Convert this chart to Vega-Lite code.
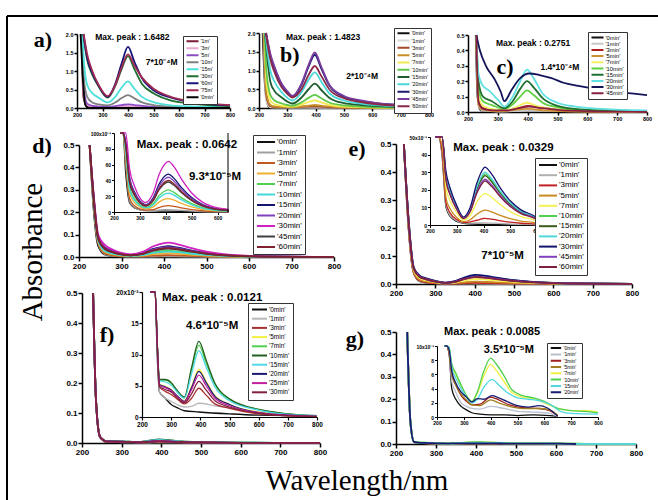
{
  "$schema": "https://vega.github.io/schema/vega-lite/v6.json",
  "width": 651,
  "height": 484,
  "autosize": "none",
  "padding": {"left": 7, "top": 16, "right": 0, "bottom": 0},
  "background": "white",
  "data": {
    "values": "p,s,w,A\na,1m,218,2\na,1m,225,0.3\na,1m,240,0.03\na,1m,260,0.01\na,1m,800,0\na,3m,219,2\na,3m,226,0.4\na,3m,240,0.08\na,3m,260,0.04\na,3m,320,0.02\na,3m,400,0.05\na,3m,455,0.03\na,3m,560,0.005\na,3m,800,0\na,5m,219,2\na,5m,227,0.5\na,5m,240,0.12\na,5m,260,0.06\na,5m,320,0.03\na,5m,375,0.08\na,5m,400,0.1\na,5m,425,0.08\na,5m,500,0.03\na,5m,650,0.005\na,5m,800,0\na,10m,220,2\na,10m,227,0.8\na,10m,240,0.3\na,10m,260,0.15\na,10m,285,0.1\na,10m,320,0.07\na,10m,350,0.15\na,10m,375,0.27\na,10m,400,0.35\na,10m,425,0.26\na,10m,455,0.15\na,10m,500,0.08\na,10m,560,0.04\na,10m,650,0.02\na,10m,800,0.01\na,15m,221,2\na,15m,228,1.2\na,15m,240,0.62\na,15m,260,0.4\na,15m,285,0.28\na,15m,320,0.15\na,15m,350,0.3\na,15m,375,0.55\na,15m,400,0.72\na,15m,425,0.52\na,15m,455,0.3\na,15m,500,0.16\na,15m,560,0.08\na,15m,650,0.04\na,15m,800,0.02\na,30m,225,2\na,30m,240,1.3\na,30m,260,0.9\na,30m,285,0.58\na,30m,320,0.28\na,30m,350,0.6\na,30m,375,1.05\na,30m,400,1.4\na,30m,425,1.05\na,30m,455,0.65\na,30m,500,0.4\na,30m,560,0.22\na,30m,650,0.12\na,30m,800,0.05\na,60m,225,2\na,60m,240,1.35\na,60m,260,0.95\na,60m,285,0.6\na,60m,320,0.3\na,60m,350,0.65\na,60m,375,1.2\na,60m,400,1.65\na,60m,425,1.25\na,60m,455,0.8\na,60m,500,0.48\na,60m,560,0.3\na,60m,650,0.16\na,60m,800,0.07\na,75m,226,2\na,75m,240,1.45\na,75m,260,1\na,75m,285,0.62\na,75m,320,0.32\na,75m,350,0.62\na,75m,375,1.1\na,75m,400,1.45\na,75m,425,1.15\na,75m,455,0.82\na,75m,500,0.52\na,75m,560,0.32\na,75m,650,0.17\na,75m,800,0.08\na,0min,214,2\na,0min,222,0.9\na,0min,232,0.1\na,0min,245,0\na,0min,800,0\nb,0min,213,2\nb,0min,222,0.5\nb,0min,235,0.02\nb,0min,800,0\nb,1min,216,2\nb,1min,225,0.2\nb,1min,240,0.02\nb,1min,260,0.01\nb,1min,800,0\nb,3min,217,2\nb,3min,226,0.3\nb,3min,240,0.05\nb,3min,260,0.02\nb,3min,397,0.04\nb,3min,450,0.02\nb,3min,560,0\nb,3min,800,0\nb,5min,218,2\nb,5min,226,0.4\nb,5min,240,0.08\nb,5min,255,0.04\nb,5min,318,0.02\nb,5min,375,0.06\nb,5min,397,0.08\nb,5min,430,0.05\nb,5min,500,0.02\nb,5min,650,0\nb,5min,800,0\nb,7min,219,2\nb,7min,226,0.7\nb,7min,240,0.2\nb,7min,255,0.1\nb,7min,280,0.06\nb,7min,318,0.04\nb,7min,350,0.09\nb,7min,375,0.16\nb,7min,397,0.2\nb,7min,420,0.15\nb,7min,450,0.08\nb,7min,500,0.04\nb,7min,650,0.01\nb,7min,800,0\nb,10min,220,2\nb,10min,226,1\nb,10min,240,0.35\nb,10min,255,0.2\nb,10min,280,0.12\nb,10min,300,0.08\nb,10min,318,0.06\nb,10min,350,0.15\nb,10min,375,0.27\nb,10min,397,0.35\nb,10min,420,0.26\nb,10min,450,0.14\nb,10min,500,0.07\nb,10min,560,0.04\nb,10min,650,0.02\nb,10min,800,0.01\nb,15min,221,2\nb,15min,227,1.5\nb,15min,240,0.7\nb,15min,255,0.45\nb,15min,280,0.28\nb,15min,300,0.17\nb,15min,318,0.12\nb,15min,350,0.28\nb,15min,375,0.5\nb,15min,397,0.65\nb,15min,420,0.48\nb,15min,450,0.26\nb,15min,500,0.13\nb,15min,560,0.08\nb,15min,650,0.04\nb,15min,800,0.02\nb,20min,222,2\nb,20min,228,1.6\nb,20min,240,1\nb,20min,255,0.7\nb,20min,280,0.42\nb,20min,300,0.27\nb,20min,318,0.2\nb,20min,350,0.42\nb,20min,375,0.75\nb,20min,397,0.95\nb,20min,420,0.7\nb,20min,450,0.38\nb,20min,500,0.2\nb,20min,560,0.12\nb,20min,650,0.06\nb,20min,800,0.03\nb,30min,225,2\nb,30min,240,1.4\nb,30min,255,1.05\nb,30min,280,0.62\nb,30min,300,0.43\nb,30min,318,0.3\nb,30min,350,0.62\nb,30min,375,1.1\nb,30min,397,1.42\nb,30min,420,1.05\nb,30min,450,0.58\nb,30min,500,0.3\nb,30min,560,0.19\nb,30min,650,0.1\nb,30min,800,0.05\nb,45min,225,2\nb,45min,240,1.45\nb,45min,255,1.1\nb,45min,280,0.65\nb,45min,300,0.45\nb,45min,318,0.32\nb,45min,350,0.65\nb,45min,375,1.15\nb,45min,397,1.48\nb,45min,420,1.1\nb,45min,450,0.6\nb,45min,500,0.32\nb,45min,560,0.2\nb,45min,650,0.1\nb,45min,800,0.05\nb,60min,224,2\nb,60min,240,1.3\nb,60min,255,0.95\nb,60min,280,0.55\nb,60min,300,0.38\nb,60min,318,0.28\nb,60min,350,0.5\nb,60min,375,0.88\nb,60min,397,1.12\nb,60min,420,0.85\nb,60min,450,0.48\nb,60min,500,0.26\nb,60min,560,0.16\nb,60min,650,0.08\nb,60min,800,0.04\nc,0min,226,0.5\nc,0min,232,0.1\nc,0min,242,0.01\nc,0min,800,0\nc,1min,227,0.5\nc,1min,235,0.04\nc,1min,250,0.01\nc,1min,300,0.003\nc,1min,400,0.008\nc,1min,800,0\nc,3min,228,0.5\nc,3min,235,0.08\nc,3min,250,0.025\nc,3min,280,0.012\nc,3min,322,0.008\nc,3min,360,0.02\nc,3min,400,0.04\nc,3min,440,0.03\nc,3min,500,0.015\nc,3min,600,0.005\nc,3min,800,0\nc,5min,228,0.5\nc,5min,235,0.05\nc,5min,250,0.015\nc,5min,300,0.005\nc,5min,400,0.02\nc,5min,460,0.01\nc,5min,560,0.003\nc,5min,800,0\nc,7min,228,0.5\nc,7min,235,0.1\nc,7min,250,0.04\nc,7min,280,0.02\nc,7min,322,0.01\nc,7min,360,0.03\nc,7min,398,0.06\nc,7min,430,0.04\nc,7min,480,0.02\nc,7min,560,0.01\nc,7min,800,0\nc,10min,228,0.5\nc,10min,235,0.15\nc,10min,250,0.07\nc,10min,280,0.045\nc,10min,322,0.02\nc,10min,350,0.05\nc,10min,375,0.1\nc,10min,398,0.14\nc,10min,420,0.11\nc,10min,450,0.06\nc,10min,500,0.03\nc,10min,560,0.015\nc,10min,650,0.01\nc,10min,800,0.005\nc,15min,228,0.5\nc,15min,235,0.2\nc,15min,250,0.1\nc,15min,280,0.07\nc,15min,322,0.025\nc,15min,350,0.07\nc,15min,375,0.15\nc,15min,398,0.2\nc,15min,420,0.16\nc,15min,450,0.09\nc,15min,500,0.04\nc,15min,560,0.02\nc,15min,650,0.01\nc,15min,800,0.005\nc,20min,228,0.5\nc,20min,235,0.25\nc,20min,250,0.17\nc,20min,270,0.14\nc,20min,300,0.08\nc,20min,322,0.035\nc,20min,350,0.1\nc,20min,375,0.2\nc,20min,398,0.275\nc,20min,420,0.22\nc,20min,450,0.12\nc,20min,500,0.06\nc,20min,560,0.035\nc,20min,650,0.02\nc,20min,800,0.01\nc,30min,228,0.5\nc,30min,240,0.4\nc,30min,260,0.3\nc,30min,290,0.21\nc,30min,310,0.13\nc,30min,322,0.07\nc,30min,345,0.14\nc,30min,375,0.22\nc,30min,405,0.25\nc,30min,440,0.24\nc,30min,480,0.22\nc,30min,520,0.19\nc,30min,570,0.17\nc,30min,660,0.14\nc,30min,800,0.11\nc,45min,228,0.5\nc,45min,235,0.07\nc,45min,250,0.02\nc,45min,290,0.01\nc,45min,330,0.01\nc,45min,370,0.025\nc,45min,405,0.035\nc,45min,450,0.025\nc,45min,520,0.01\nc,45min,650,0.003\nc,45min,800,0\nd,0min,225,0.5\nd,0min,235,0.2\nd,0min,245,0.05\nd,0min,260,0.012\nd,0min,280,0.005\nd,0min,322,0.002\nd,0min,400,0.001\nd,0min,500,0.0003\nd,0min,800,0\nd,1min,225,0.5\nd,1min,235,0.22\nd,1min,245,0.062\nd,1min,260,0.014\nd,1min,280,0.0054\nd,1min,300,0.0028\nd,1min,322,0.0016\nd,1min,350,0.0017\nd,1min,375,0.0023\nd,1min,400,0.0029\nd,1min,410,0.003\nd,1min,430,0.0027\nd,1min,460,0.002\nd,1min,500,0.0011\nd,1min,540,0.0006\nd,1min,600,0.0002\nd,1min,640,0.0002\nd,1min,800,0\nd,3min,225,0.5\nd,3min,235,0.226\nd,3min,245,0.065\nd,3min,260,0.0174\nd,3min,280,0.0075\nd,3min,300,0.004\nd,3min,322,0.0024\nd,3min,350,0.0029\nd,3min,375,0.006\nd,3min,400,0.0078\nd,3min,410,0.008\nd,3min,430,0.0072\nd,3min,460,0.0052\nd,3min,500,0.003\nd,3min,540,0.0016\nd,3min,600,0.0006\nd,3min,640,0.0004\nd,3min,800,0.0001\nd,5min,225,0.5\nd,5min,235,0.235\nd,5min,245,0.071\nd,5min,260,0.0236\nd,5min,280,0.0116\nd,5min,300,0.0063\nd,5min,322,0.004\nd,5min,350,0.0061\nd,5min,375,0.0128\nd,5min,400,0.0165\nd,5min,410,0.017\nd,5min,430,0.0153\nd,5min,460,0.011\nd,5min,500,0.0065\nd,5min,540,0.0034\nd,5min,600,0.0014\nd,5min,640,0.0009\nd,5min,800,0.0002\nd,7min,225,0.5\nd,7min,235,0.24\nd,7min,245,0.078\nd,7min,260,0.031\nd,7min,280,0.0163\nd,7min,300,0.009\nd,7min,322,0.0058\nd,7min,350,0.0101\nd,7min,375,0.021\nd,7min,400,0.0272\nd,7min,410,0.028\nd,7min,430,0.0252\nd,7min,460,0.0182\nd,7min,500,0.0106\nd,7min,540,0.0056\nd,7min,600,0.0022\nd,7min,640,0.0014\nd,7min,800,0.0003\nd,10min,225,0.5\nd,10min,235,0.24\nd,10min,245,0.075\nd,10min,260,0.028\nd,10min,280,0.0145\nd,10min,300,0.008\nd,10min,322,0.0051\nd,10min,350,0.0086\nd,10min,375,0.018\nd,10min,400,0.0233\nd,10min,410,0.024\nd,10min,430,0.0216\nd,10min,460,0.0156\nd,10min,500,0.0091\nd,10min,540,0.0048\nd,10min,600,0.0019\nd,10min,640,0.0012\nd,10min,800,0.0002\nd,15min,225,0.5\nd,15min,235,0.26\nd,15min,245,0.09\nd,15min,260,0.044\nd,15min,280,0.025\nd,15min,300,0.014\nd,15min,322,0.0093\nd,15min,350,0.0173\nd,15min,375,0.036\nd,15min,400,0.0466\nd,15min,410,0.048\nd,15min,430,0.0432\nd,15min,460,0.0312\nd,15min,500,0.0182\nd,15min,540,0.0096\nd,15min,600,0.0038\nd,15min,640,0.0024\nd,15min,800,0.0005\nd,20min,225,0.5\nd,20min,235,0.255\nd,20min,245,0.088\nd,20min,260,0.042\nd,20min,280,0.0233\nd,20min,300,0.013\nd,20min,322,0.0086\nd,20min,350,0.0158\nd,20min,375,0.033\nd,20min,400,0.0427\nd,20min,410,0.044\nd,20min,430,0.0396\nd,20min,460,0.0286\nd,20min,500,0.0167\nd,20min,540,0.0088\nd,20min,600,0.0035\nd,20min,640,0.0022\nd,20min,800,0.0004\nd,30min,225,0.5\nd,30min,235,0.27\nd,30min,245,0.1\nd,30min,260,0.055\nd,30min,280,0.032\nd,30min,300,0.018\nd,30min,322,0.012\nd,30min,350,0.023\nd,30min,375,0.048\nd,30min,400,0.062\nd,30min,410,0.064\nd,30min,430,0.058\nd,30min,460,0.042\nd,30min,500,0.024\nd,30min,540,0.0128\nd,30min,600,0.0051\nd,30min,640,0.0032\nd,30min,800,0.0006\nd,45min,225,0.5\nd,45min,235,0.25\nd,45min,245,0.084\nd,45min,260,0.037\nd,45min,280,0.0205\nd,45min,300,0.0114\nd,45min,322,0.0075\nd,45min,350,0.0137\nd,45min,375,0.0285\nd,45min,400,0.0369\nd,45min,410,0.038\nd,45min,430,0.0342\nd,45min,460,0.0247\nd,45min,500,0.0144\nd,45min,540,0.0076\nd,45min,600,0.003\nd,45min,640,0.0019\nd,45min,800,0.0004\nd,60min,225,0.5\nd,60min,235,0.25\nd,60min,245,0.085\nd,60min,260,0.039\nd,60min,280,0.0216\nd,60min,300,0.012\nd,60min,322,0.0079\nd,60min,350,0.0144\nd,60min,375,0.03\nd,60min,400,0.0388\nd,60min,410,0.04\nd,60min,430,0.036\nd,60min,460,0.026\nd,60min,500,0.0152\nd,60min,540,0.008\nd,60min,600,0.0032\nd,60min,640,0.002\nd,60min,800,0.0004\ne,0min,220,0.5\ne,0min,232,0.2\ne,0min,245,0.04\ne,0min,260,0.01\ne,0min,275,0.005\ne,0min,300,0.002\ne,0min,325,0.001\ne,0min,400,0.0003\ne,0min,800,0\ne,1min,220,0.5\ne,1min,232,0.2\ne,1min,245,0.04\ne,1min,260,0.011\ne,1min,275,0.0055\ne,1min,300,0.0025\ne,1min,325,0.0012\ne,1min,350,0.0011\ne,1min,400,0.0012\ne,1min,460,0.0009\ne,1min,540,0.0004\ne,1min,640,0.0002\ne,1min,800,0\ne,3min,220,0.5\ne,3min,232,0.204\ne,3min,245,0.042\ne,3min,260,0.0124\ne,3min,275,0.0069\ne,3min,300,0.0031\ne,3min,325,0.0015\ne,3min,350,0.0018\ne,3min,375,0.0027\ne,3min,400,0.0037\ne,3min,405,0.0038\ne,3min,430,0.0033\ne,3min,460,0.0025\ne,3min,500,0.0016\ne,3min,540,0.001\ne,3min,600,0.0005\ne,3min,640,0.0003\ne,3min,800,0.0001\ne,5min,220,0.5\ne,5min,232,0.208\ne,5min,245,0.045\ne,5min,260,0.0152\ne,5min,275,0.0092\ne,5min,300,0.0043\ne,5min,325,0.0019\ne,5min,350,0.003\ne,5min,375,0.0061\ne,5min,400,0.0083\ne,5min,405,0.0085\ne,5min,430,0.0075\ne,5min,460,0.0056\ne,5min,500,0.0036\ne,5min,540,0.0022\ne,5min,600,0.001\ne,5min,640,0.0006\ne,5min,800,0.0002\ne,7min,220,0.5\ne,7min,232,0.216\ne,7min,245,0.051\ne,7min,260,0.021\ne,7min,275,0.0138\ne,7min,300,0.007\ne,7min,325,0.0029\ne,7min,350,0.0054\ne,7min,375,0.013\ne,7min,400,0.0176\ne,7min,405,0.018\ne,7min,430,0.0158\ne,7min,460,0.0119\ne,7min,500,0.0076\ne,7min,540,0.0047\ne,7min,600,0.0022\ne,7min,640,0.0013\ne,7min,800,0.0004\ne,10min,220,0.5\ne,10min,232,0.226\ne,10min,245,0.0576\ne,10min,260,0.0276\ne,10min,275,0.019\ne,10min,300,0.0099\ne,10min,325,0.0041\ne,10min,350,0.0087\ne,10min,375,0.0209\ne,10min,400,0.0284\ne,10min,405,0.029\ne,10min,430,0.0255\ne,10min,460,0.0191\ne,10min,500,0.0122\ne,10min,540,0.0075\ne,10min,600,0.0035\ne,10min,640,0.002\ne,10min,800,0.0006\ne,15min,220,0.5\ne,15min,232,0.226\ne,15min,245,0.057\ne,15min,260,0.027\ne,15min,275,0.0186\ne,15min,300,0.0097\ne,15min,325,0.004\ne,15min,350,0.0084\ne,15min,375,0.0202\ne,15min,400,0.0274\ne,15min,405,0.028\ne,15min,430,0.0246\ne,15min,460,0.0185\ne,15min,500,0.0118\ne,15min,540,0.0073\ne,15min,600,0.0034\ne,15min,640,0.002\ne,15min,800,0.0006\ne,20min,220,0.5\ne,20min,232,0.227\ne,20min,245,0.058\ne,20min,260,0.028\ne,20min,275,0.0196\ne,20min,300,0.0102\ne,20min,325,0.0042\ne,20min,350,0.009\ne,20min,375,0.0216\ne,20min,400,0.0294\ne,20min,405,0.03\ne,20min,430,0.0264\ne,20min,460,0.0198\ne,20min,500,0.0126\ne,20min,540,0.0078\ne,20min,600,0.0036\ne,20min,640,0.0021\ne,20min,800,0.0006\ne,30min,220,0.5\ne,30min,232,0.23\ne,30min,245,0.06\ne,30min,260,0.03\ne,30min,275,0.021\ne,30min,300,0.011\ne,30min,325,0.0045\ne,30min,350,0.0099\ne,30min,375,0.0237\ne,30min,400,0.0322\ne,30min,405,0.0329\ne,30min,430,0.029\ne,30min,460,0.0217\ne,30min,500,0.0138\ne,30min,540,0.0086\ne,30min,600,0.0039\ne,30min,640,0.0023\ne,30min,800,0.0007\ne,45min,220,0.5\ne,45min,232,0.224\ne,45min,245,0.056\ne,45min,260,0.026\ne,45min,275,0.0176\ne,45min,300,0.0091\ne,45min,325,0.0038\ne,45min,350,0.0078\ne,45min,375,0.0187\ne,45min,400,0.0255\ne,45min,405,0.026\ne,45min,430,0.0229\ne,45min,460,0.0172\ne,45min,500,0.0109\ne,45min,540,0.0068\ne,45min,600,0.0031\ne,45min,640,0.0018\ne,45min,800,0.0005\ne,60min,220,0.5\ne,60min,232,0.223\ne,60min,245,0.055\ne,60min,260,0.025\ne,60min,275,0.0172\ne,60min,300,0.0088\ne,60min,325,0.0037\ne,60min,350,0.0075\ne,60min,375,0.018\ne,60min,400,0.0245\ne,60min,405,0.025\ne,60min,430,0.022\ne,60min,460,0.0165\ne,60min,500,0.0105\ne,60min,540,0.0065\ne,60min,600,0.003\ne,60min,640,0.0018\ne,60min,800,0.0005\nf,0min,228,0.5\nf,0min,235,0.15\nf,0min,245,0.02\nf,0min,252,0.01\nf,0min,260,0.004\nf,0min,280,0.003\nf,0min,300,0.002\nf,0min,320,0.0015\nf,0min,345,0.001\nf,0min,395,0.0008\nf,0min,500,0.0005\nf,0min,600,0.0003\nf,0min,800,0.0002\nf,1min,228,0.5\nf,1min,235,0.15\nf,1min,245,0.022\nf,1min,252,0.012\nf,1min,260,0.004\nf,1min,280,0.003\nf,1min,300,0.0025\nf,1min,320,0.002\nf,1min,345,0.0016\nf,1min,370,0.0017\nf,1min,395,0.0022\nf,1min,450,0.0018\nf,1min,500,0.0015\nf,1min,600,0.0008\nf,1min,700,0.0004\nf,1min,800,0.0002\nf,3min,228,0.5\nf,3min,235,0.15\nf,3min,245,0.022\nf,3min,252,0.012\nf,3min,260,0.0048\nf,3min,280,0.0041\nf,3min,300,0.0036\nf,3min,320,0.0029\nf,3min,345,0.0021\nf,3min,370,0.003\nf,3min,395,0.0046\nf,3min,420,0.0035\nf,3min,450,0.0021\nf,3min,500,0.0014\nf,3min,600,0.0005\nf,3min,700,0.0002\nf,3min,800,0.0001\nf,5min,228,0.5\nf,5min,235,0.15\nf,5min,245,0.022\nf,5min,252,0.012\nf,5min,260,0.0053\nf,5min,280,0.0049\nf,5min,300,0.0044\nf,5min,320,0.0034\nf,5min,345,0.0026\nf,5min,370,0.0049\nf,5min,395,0.0076\nf,5min,420,0.0057\nf,5min,450,0.0034\nf,5min,500,0.002\nf,5min,600,0.0008\nf,5min,700,0.0003\nf,5min,800,0.0002\nf,7min,228,0.5\nf,7min,235,0.15\nf,7min,245,0.022\nf,7min,252,0.012\nf,7min,260,0.0059\nf,7min,280,0.0059\nf,7min,300,0.0054\nf,7min,320,0.0042\nf,7min,345,0.0031\nf,7min,370,0.0075\nf,7min,395,0.0115\nf,7min,420,0.0086\nf,7min,450,0.0052\nf,7min,500,0.0028\nf,7min,600,0.0012\nf,7min,700,0.0005\nf,7min,800,0.0002\nf,10min,228,0.5\nf,10min,235,0.15\nf,10min,245,0.022\nf,10min,252,0.012\nf,10min,260,0.006\nf,10min,280,0.006\nf,10min,300,0.0055\nf,10min,320,0.0043\nf,10min,345,0.0032\nf,10min,370,0.0079\nf,10min,395,0.0121\nf,10min,420,0.0091\nf,10min,450,0.0054\nf,10min,500,0.0029\nf,10min,600,0.0012\nf,10min,700,0.0005\nf,10min,800,0.0002\nf,15min,228,0.5\nf,15min,235,0.15\nf,15min,245,0.022\nf,15min,252,0.012\nf,15min,260,0.0058\nf,15min,280,0.0056\nf,15min,300,0.0051\nf,15min,320,0.004\nf,15min,345,0.003\nf,15min,370,0.0069\nf,15min,395,0.0106\nf,15min,420,0.008\nf,15min,450,0.0048\nf,15min,500,0.0026\nf,15min,600,0.0011\nf,15min,700,0.0004\nf,15min,800,0.0002\nf,20min,228,0.5\nf,20min,235,0.15\nf,20min,245,0.022\nf,20min,252,0.012\nf,20min,260,0.0052\nf,20min,280,0.0048\nf,20min,300,0.0043\nf,20min,320,0.0034\nf,20min,345,0.0025\nf,20min,370,0.0047\nf,20min,395,0.0073\nf,20min,420,0.0055\nf,20min,450,0.0033\nf,20min,500,0.002\nf,20min,600,0.0007\nf,20min,700,0.0003\nf,20min,800,0.0001\nf,25min,228,0.5\nf,25min,235,0.15\nf,25min,245,0.022\nf,25min,252,0.012\nf,25min,260,0.0051\nf,25min,280,0.0047\nf,25min,300,0.0042\nf,25min,320,0.0033\nf,25min,345,0.0024\nf,25min,370,0.0044\nf,25min,395,0.0067\nf,25min,420,0.005\nf,25min,450,0.003\nf,25min,500,0.0018\nf,25min,600,0.0007\nf,25min,700,0.0003\nf,25min,800,0.0001\nf,30min,228,0.5\nf,30min,235,0.15\nf,30min,245,0.022\nf,30min,252,0.012\nf,30min,260,0.0049\nf,30min,280,0.0044\nf,30min,300,0.004\nf,30min,320,0.0031\nf,30min,345,0.0023\nf,30min,370,0.0037\nf,30min,395,0.0057\nf,30min,420,0.0043\nf,30min,450,0.0026\nf,30min,500,0.0016\nf,30min,600,0.0006\nf,30min,700,0.0002\nf,30min,800,0.0001\ng,0min,228,0.5\ng,0min,236,0.1\ng,0min,245,0.009\ng,0min,255,0.004\ng,0min,270,0.0025\ng,0min,290,0.0015\ng,0min,310,0.001\ng,0min,330,0.0006\ng,0min,360,0.0004\ng,0min,400,0.0003\ng,0min,450,0.0003\ng,0min,500,0.0002\ng,0min,560,0.0003\ng,0min,620,0.0002\ng,0min,650,0.0001\ng,1min,228,0.5\ng,1min,236,0.1\ng,1min,245,0.009\ng,1min,255,0.005\ng,1min,270,0.0035\ng,1min,290,0.002\ng,1min,310,0.0015\ng,1min,330,0.0012\ng,1min,360,0.0011\ng,1min,400,0.0015\ng,1min,450,0.0012\ng,1min,500,0.0008\ng,1min,560,0.0007\ng,1min,620,0.0005\ng,1min,650,0.0001\ng,3min,228,0.5\ng,3min,236,0.1\ng,3min,245,0.009\ng,3min,255,0.006\ng,3min,270,0.0045\ng,3min,290,0.003\ng,3min,310,0.0022\ng,3min,330,0.0017\ng,3min,360,0.0018\ng,3min,400,0.0028\ng,3min,430,0.0024\ng,3min,470,0.0017\ng,3min,520,0.0013\ng,3min,580,0.0012\ng,3min,620,0.0009\ng,3min,650,0.0002\ng,5min,228,0.5\ng,5min,236,0.1\ng,5min,245,0.009\ng,5min,255,0.006\ng,5min,270,0.0045\ng,5min,290,0.0032\ng,5min,310,0.0024\ng,5min,330,0.0017\ng,5min,360,0.0016\ng,5min,400,0.0024\ng,5min,430,0.002\ng,5min,470,0.0015\ng,5min,520,0.0012\ng,5min,580,0.0012\ng,5min,620,0.001\ng,5min,650,0.0002\ng,7min,228,0.5\ng,7min,236,0.1\ng,7min,245,0.0096\ng,7min,255,0.0072\ng,7min,270,0.006\ng,7min,290,0.0043\ng,7min,310,0.003\ng,7min,330,0.0022\ng,7min,350,0.0033\ng,7min,375,0.0058\ng,7min,400,0.0074\ng,7min,420,0.0066\ng,7min,450,0.005\ng,7min,480,0.0034\ng,7min,520,0.0028\ng,7min,560,0.0026\ng,7min,600,0.002\ng,7min,650,0.0012\ng,7min,700,0.0009\ng,7min,750,0.0009\ng,7min,800,0.0007\ng,10min,228,0.5\ng,10min,236,0.1\ng,10min,245,0.0098\ng,10min,255,0.0075\ng,10min,270,0.0062\ng,10min,290,0.0045\ng,10min,310,0.003\ng,10min,330,0.0022\ng,10min,350,0.0035\ng,10min,375,0.0065\ng,10min,400,0.0083\ng,10min,420,0.0075\ng,10min,450,0.0058\ng,10min,480,0.0038\ng,10min,520,0.003\ng,10min,560,0.0027\ng,10min,600,0.0022\ng,10min,650,0.0012\ng,10min,700,0.0009\ng,10min,750,0.0008\ng,10min,800,0.0006\ng,15min,228,0.5\ng,15min,236,0.1\ng,15min,245,0.0098\ng,15min,255,0.007\ng,15min,270,0.0055\ng,15min,290,0.004\ng,15min,310,0.0028\ng,15min,330,0.002\ng,15min,350,0.0025\ng,15min,375,0.0042\ng,15min,405,0.0053\ng,15min,430,0.0045\ng,15min,460,0.0035\ng,15min,500,0.0027\ng,15min,540,0.0025\ng,15min,580,0.0023\ng,15min,620,0.0018\ng,15min,660,0.0008\ng,15min,700,0.0005\ng,15min,800,0.0004\ng,20min,228,0.5\ng,20min,236,0.1\ng,20min,245,0.0095\ng,20min,255,0.0065\ng,20min,270,0.0048\ng,20min,290,0.0035\ng,20min,310,0.0028\ng,20min,330,0.0021\ng,20min,350,0.0026\ng,20min,375,0.0025\ng,20min,405,0.003\ng,20min,430,0.0027\ng,20min,460,0.0022\ng,20min,500,0.0016\ng,20min,540,0.0014\ng,20min,580,0.0016\ng,20min,610,0.0013\ng,20min,650,0.0001",
    "format": {"type": "csv", "parse": {"w": "number", "A": "number"}}
  },
  "layer": [
    {"mark": {"type": "rule", "color": "black", "strokeWidth": 2},
     "encoding": {
       "x": {"datum": 0, "type": "quantitative", "scale": {"domain": [0, 1], "range": [0, 651], "nice": false, "zero": false}, "axis": null},
       "x2": {"datum": 1},
       "y": {"datum": 1, "type": "quantitative", "scale": {"domain": [0, 1], "range": [484, 0], "nice": false, "zero": false}, "axis": null}
     }},
    {"mark": {"type": "rule", "color": "black", "strokeWidth": 2},
     "encoding": {
       "x": {"datum": 0, "type": "quantitative", "scale": {"domain": [0, 1], "range": [0, 651], "nice": false, "zero": false}, "axis": null},
       "y": {"datum": 0, "type": "quantitative", "scale": {"domain": [0, 1], "range": [484, 0], "nice": false, "zero": false}, "axis": null},
       "y2": {"datum": 1}
     }},
    {"layer": [
      {"transform": [{"filter": "datum.p == 'a'"}],
       "mark": {"type": "line", "strokeWidth": 1.8, "interpolate": "monotone"},
       "encoding": {
         "x": {"field": "w", "type": "quantitative", "scale": {"domain": [200, 800], "range": [70, 223], "nice": false, "zero": false}, "axis": {"orient": "bottom", "offset": -392, "values": [200, 300, 400, 500, 600, 700, 800], "title": null, "labelFontSize": 5.5, "tickSize": 3}},
         "y": {"field": "A", "type": "quantitative", "scale": {"domain": [0, 2], "range": [92, 18], "nice": false, "zero": false}, "axis": {"orient": "left", "offset": -70, "values": [0, 0.5, 1, 1.5, 2], "format": ".1f", "title": null, "labelFontSize": 5.5, "tickSize": 3}},
         "color": {"field": "s", "type": "nominal", "scale": {"domain": ["1m", "3m", "5m", "10m", "15m", "30m", "60m", "75m", "0min"], "range": ["#7a1e3c", "#eaa6cc", "#8e4cc8", "#808080", "#4ce0da", "#1e6e2e", "#14147a", "#a02a52", "#000000"]},
           "legend": {"orient": "none", "legendX": 176, "legendY": 20, "title": null, "labelExpr": "\"'\" + datum.label + \"'\"", "labelFontSize": 5.3, "symbolSize": 16, "symbolType": "M-1,0H5", "labelOffset": 9, "clipHeight": 5.5, "rowPadding": 0, "padding": 2.5}}
       }},
      {"data": {"values": [{"t": "a)", "x": 66, "y": 1.84}]},
       "mark": {"type": "text", "font": "Liberation Serif", "fontWeight": "bold", "fontSize": 22},
       "encoding": {"x": {"field": "x", "type": "quantitative"}, "y": {"field": "y", "type": "quantitative"}, "text": {"field": "t"}}},
      {"data": {"values": [{"t": "Max. peak : 1.6482", "x": 417, "y": 1.92}, {"t": "7*10⁻⁴M", "x": 532, "y": 1.24}]},
       "mark": {"type": "text", "font": "Liberation Sans", "fontWeight": "bold", "fontSize": 8.5},
       "encoding": {"x": {"field": "x", "type": "quantitative"}, "y": {"field": "y", "type": "quantitative"}, "text": {"field": "t"}}}
    ]},
    {"layer": [
      {"transform": [{"filter": "datum.p == 'b'"}],
       "mark": {"type": "line", "strokeWidth": 1.8, "interpolate": "monotone"},
       "encoding": {
         "x": {"field": "w", "type": "quantitative", "scale": {"domain": [200, 800], "range": [252, 422], "nice": false, "zero": false}, "axis": {"orient": "bottom", "offset": -392, "values": [200, 300, 400, 500, 600, 700, 800], "title": null, "labelFontSize": 5.5, "tickSize": 3}},
         "y": {"field": "A", "type": "quantitative", "scale": {"domain": [0, 2], "range": [92, 17], "nice": false, "zero": false}, "axis": {"orient": "left", "offset": -252, "values": [0, 0.5, 1, 1.5, 2], "format": ".1f", "title": null, "labelFontSize": 5.5, "tickSize": 3}},
         "color": {"field": "s", "type": "nominal", "scale": {"domain": ["0min", "1min", "3min", "5min", "7min", "10min", "15min", "20min", "30min", "45min", "60min"], "range": ["#111111", "#d8d8d8", "#a04a30", "#c8902a", "#f2ea50", "#60c848", "#1e5e2e", "#48d8d8", "#1a1a70", "#7a3ea0", "#8a2848"]},
           "legend": {"orient": "none", "legendX": 387, "legendY": 12, "title": null, "labelExpr": "\"'\" + datum.label + \"'\"", "labelFontSize": 5.3, "symbolSize": 16, "symbolType": "M-1,0H5", "labelOffset": 9, "clipHeight": 5.5, "rowPadding": 0.3, "padding": 2.5}}
       }},
      {"data": {"values": [{"t": "b)", "x": 309, "y": 1.41}]},
       "mark": {"type": "text", "font": "Liberation Serif", "fontWeight": "bold", "fontSize": 22},
       "encoding": {"x": {"field": "x", "type": "quantitative"}, "y": {"field": "y", "type": "quantitative"}, "text": {"field": "t"}}},
      {"data": {"values": [{"t": "Max. peak : 1.4823", "x": 426, "y": 1.89}, {"t": "2*10⁻⁴M", "x": 564, "y": 0.85}]},
       "mark": {"type": "text", "font": "Liberation Sans", "fontWeight": "bold", "fontSize": 8.5},
       "encoding": {"x": {"field": "x", "type": "quantitative"}, "y": {"field": "y", "type": "quantitative"}, "text": {"field": "t"}}}
    ]},
    {"layer": [
      {"transform": [{"filter": "datum.p == 'c'"}],
       "mark": {"type": "line", "strokeWidth": 1.8, "interpolate": "monotone"},
       "encoding": {
         "x": {"field": "w", "type": "quantitative", "scale": {"domain": [200, 800], "range": [461, 640], "nice": false, "zero": false}, "axis": {"orient": "bottom", "offset": -388, "values": [200, 300, 400, 500, 600, 700, 800], "title": null, "labelFontSize": 5.5, "tickSize": 3}},
         "y": {"field": "A", "type": "quantitative", "scale": {"domain": [0, 0.5], "range": [96, 19], "nice": false, "zero": false}, "axis": {"orient": "left", "offset": -461, "values": [0, 0.1, 0.2, 0.3, 0.4, 0.5], "format": ".1f", "title": null, "labelFontSize": 5.5, "tickSize": 3}},
         "color": {"field": "s", "type": "nominal", "scale": {"domain": ["0min", "1min", "3min", "5min", "7min", "10min", "15min", "20min", "30min", "45min"], "range": ["#111111", "#c8c8c8", "#b02020", "#d09030", "#f2f060", "#60d040", "#207030", "#60e0e0", "#14145a", "#8a2040"]},
           "legend": {"orient": "none", "legendX": 581, "legendY": 16, "title": null, "labelExpr": "\"'\" + datum.label + \"'\"", "labelFontSize": 5.8, "symbolSize": 16, "symbolType": "M-1,0H5", "labelOffset": 9, "clipHeight": 6, "rowPadding": 0.2, "padding": 2.5}}
       }},
      {"data": {"values": [{"t": "c)", "x": 324, "y": 0.29}]},
       "mark": {"type": "text", "font": "Liberation Serif", "fontWeight": "bold", "fontSize": 22},
       "encoding": {"x": {"field": "x", "type": "quantitative"}, "y": {"field": "y", "type": "quantitative"}, "text": {"field": "t"}}},
      {"data": {"values": [{"t": "Max. peak : 0.2751", "x": 418, "y": 0.45}, {"t": "1.4*10⁻⁴M", "x": 508, "y": 0.29}]},
       "mark": {"type": "text", "font": "Liberation Sans", "fontWeight": "bold", "fontSize": 8.5},
       "encoding": {"x": {"field": "x", "type": "quantitative"}, "y": {"field": "y", "type": "quantitative"}, "text": {"field": "t"}}}
    ]},
    {"layer": [
      {"transform": [{"filter": "datum.p == 'd'"}],
       "mark": {"type": "line", "strokeWidth": 1.8, "interpolate": "monotone"},
       "encoding": {
         "x": {"field": "w", "type": "quantitative", "scale": {"domain": [200, 800], "range": [72, 327], "nice": false, "zero": false}, "axis": {"orient": "bottom", "offset": -243, "values": [200, 300, 400, 500, 600, 700, 800], "title": null, "labelFontSize": 8, "tickSize": 4}},
         "y": {"field": "A", "type": "quantitative", "scale": {"domain": [0, 0.5], "range": [241, 129], "nice": false, "zero": false}, "axis": {"orient": "left", "offset": -72, "values": [0, 0.1, 0.2, 0.3, 0.4, 0.5], "format": ".1f", "title": null, "labelFontSize": 8, "tickSize": 4}},
         "color": {"field": "s", "type": "nominal", "scale": {"domain": ["0min", "1min", "3min", "5min", "7min", "10min", "15min", "20min", "30min", "45min", "60min"], "range": ["#111111", "#a0a0a0", "#c05a20", "#f0b030", "#50d050", "#40d8d8", "#14146e", "#8040c0", "#d020c0", "#404040", "#802030"]},
           "legend": {"orient": "none", "legendX": 246, "legendY": 119, "title": null, "labelExpr": "\"'\" + datum.label + \"'\"", "labelFontSize": 8, "symbolSize": 36, "symbolType": "M-1,0H5", "labelOffset": 13, "rowPadding": 2.5, "padding": 3}}
       }},
      {"data": {"values": [{"t": "d)", "x": 113, "y": 0.496}]},
       "mark": {"type": "text", "font": "Liberation Serif", "fontWeight": "bold", "fontSize": 22},
       "encoding": {"x": {"field": "x", "type": "quantitative"}, "y": {"field": "y", "type": "quantitative"}, "text": {"field": "t"}}},
      {"data": {"values": [{"t": "Max. peak : 0.0642", "x": 454, "y": 0.5}, {"t": "9.3*10⁻⁵M", "x": 520, "y": 0.357}]},
       "mark": {"type": "text", "font": "Liberation Sans", "fontWeight": "bold", "fontSize": 11.5},
       "encoding": {"x": {"field": "x", "type": "quantitative"}, "y": {"field": "y", "type": "quantitative"}, "text": {"field": "t"}}},
      {"data": {"values": [{"t": "Absorbance", "x": 92, "y": 0.022}]},
       "mark": {"type": "text", "font": "Liberation Serif", "fontSize": 29, "angle": 270},
       "encoding": {"x": {"field": "x", "type": "quantitative"}, "y": {"field": "y", "type": "quantitative"}, "text": {"field": "t"}}}
    ]},
    {"layer": [
      {"transform": [{"filter": "datum.p == 'e'"}],
       "mark": {"type": "line", "strokeWidth": 1.8, "interpolate": "monotone"},
       "encoding": {
         "x": {"field": "w", "type": "quantitative", "scale": {"domain": [200, 800], "range": [389, 625], "nice": false, "zero": false}, "axis": {"orient": "bottom", "offset": -216, "values": [200, 300, 400, 500, 600, 700, 800], "title": null, "labelFontSize": 8, "tickSize": 4}},
         "y": {"field": "A", "type": "quantitative", "scale": {"domain": [0, 0.5], "range": [268, 128], "nice": false, "zero": false}, "axis": {"orient": "left", "offset": -389, "values": [0, 0.1, 0.2, 0.3, 0.4, 0.5], "format": ".1f", "title": null, "labelFontSize": 8, "tickSize": 4}},
         "color": {"field": "s", "type": "nominal", "scale": {"domain": ["0min", "1min", "3min", "5min", "7min", "10min", "15min", "20min", "30min", "45min", "60min"], "range": ["#111111", "#b0b0b0", "#c02020", "#c88a20", "#f4f050", "#50d050", "#3a5a1a", "#50d8d8", "#14146e", "#8040c0", "#802040"]},
           "legend": {"orient": "none", "legendX": 528, "legendY": 142, "title": null, "labelExpr": "\"'\" + datum.label + \"'\"", "labelFontSize": 8, "symbolSize": 36, "symbolType": "M-1,0H5", "labelOffset": 13, "rowPadding": 2.2, "padding": 3}}
       }},
      {"data": {"values": [{"t": "e)", "x": 101, "y": 0.482}]},
       "mark": {"type": "text", "font": "Liberation Serif", "fontWeight": "bold", "fontSize": 22},
       "encoding": {"x": {"field": "x", "type": "quantitative"}, "y": {"field": "y", "type": "quantitative"}, "text": {"field": "t"}}},
      {"data": {"values": [{"t": "Max. peak : 0.0329", "x": 473, "y": 0.486}, {"t": "7*10⁻⁵M", "x": 471, "y": 0.1}]},
       "mark": {"type": "text", "font": "Liberation Sans", "fontWeight": "bold", "fontSize": 11.5},
       "encoding": {"x": {"field": "x", "type": "quantitative"}, "y": {"field": "y", "type": "quantitative"}, "text": {"field": "t"}}}
    ]},
    {"layer": [
      {"transform": [{"filter": "datum.p == 'f'"}],
       "mark": {"type": "line", "strokeWidth": 1.8, "interpolate": "monotone"},
       "encoding": {
         "x": {"field": "w", "type": "quantitative", "scale": {"domain": [200, 800], "range": [75, 313], "nice": false, "zero": false}, "axis": {"orient": "bottom", "offset": -57, "values": [200, 300, 400, 500, 600, 700, 800], "title": null, "labelFontSize": 8, "tickSize": 4}},
         "y": {"field": "A", "type": "quantitative", "scale": {"domain": [0, 0.5], "range": [427, 277], "nice": false, "zero": false}, "axis": {"orient": "left", "offset": -75, "values": [0, 0.1, 0.2, 0.3, 0.4, 0.5], "format": ".1f", "title": null, "labelFontSize": 8, "tickSize": 4}},
         "color": {"field": "s", "type": "nominal", "scale": {"domain": ["0min", "1min", "3min", "5min", "7min", "10min", "15min", "20min", "25min", "30min"], "range": ["#111111", "#b8b8b8", "#a83030", "#f4f040", "#50d050", "#206020", "#50d8e8", "#1a1a70", "#c020a0", "#802040"]},
           "legend": {"orient": "none", "legendX": 241, "legendY": 287, "title": null, "labelExpr": "\"'\" + datum.label + \"'\"", "labelFontSize": 6.5, "symbolSize": 25, "symbolType": "M-1,0H5", "labelOffset": 11, "rowPadding": 0.2, "padding": 3}}
       }},
      {"data": {"values": [{"t": "f)", "x": 263, "y": 0.36}]},
       "mark": {"type": "text", "font": "Liberation Serif", "fontWeight": "bold", "fontSize": 22},
       "encoding": {"x": {"field": "x", "type": "quantitative"}, "y": {"field": "y", "type": "quantitative"}, "text": {"field": "t"}}},
      {"data": {"values": [{"t": "Max. peak : 0.0121", "x": 528, "y": 0.483}, {"t": "4.6*10⁻⁵M", "x": 528, "y": 0.39}]},
       "mark": {"type": "text", "font": "Liberation Sans", "fontWeight": "bold", "fontSize": 11.5},
       "encoding": {"x": {"field": "x", "type": "quantitative"}, "y": {"field": "y", "type": "quantitative"}, "text": {"field": "t"}}},
      {"data": {"values": [{"t": "Wavelength/nm", "x": 893, "y": -0.127}]},
       "mark": {"type": "text", "font": "Liberation Serif", "fontSize": 29},
       "encoding": {"x": {"field": "x", "type": "quantitative"}, "y": {"field": "y", "type": "quantitative"}, "text": {"field": "t"}}}
    ]},
    {"layer": [
      {"transform": [{"filter": "datum.p == 'g'"}],
       "mark": {"type": "line", "strokeWidth": 1.8, "interpolate": "monotone"},
       "encoding": {
         "x": {"field": "w", "type": "quantitative", "scale": {"domain": [200, 800], "range": [389, 629], "nice": false, "zero": false}, "axis": {"orient": "bottom", "offset": -56, "values": [200, 300, 400, 500, 600, 700, 800], "title": null, "labelFontSize": 8, "tickSize": 4}},
         "y": {"field": "A", "type": "quantitative", "scale": {"domain": [0, 0.5], "range": [428, 316], "nice": false, "zero": false}, "axis": {"orient": "left", "offset": -389, "values": [0, 0.1, 0.2, 0.3, 0.4, 0.5], "format": ".1f", "title": null, "labelFontSize": 8, "tickSize": 4}},
         "color": {"field": "s", "type": "nominal", "scale": {"domain": ["0min", "1min", "3min", "5min", "7min", "10min", "15min", "20min"], "range": ["#111111", "#b8c0d0", "#a02020", "#a08020", "#f0f040", "#50d050", "#50d8e0", "#1a1a70"]},
           "legend": {"orient": "none", "legendX": 540, "legendY": 327, "title": null, "labelExpr": "\"'\" + datum.label + \"'\"", "labelFontSize": 5, "symbolSize": 12, "symbolType": "M-1,0H5", "labelOffset": 8, "clipHeight": 5.2, "rowPadding": 0.3, "padding": 2.5}}
       }},
      {"data": {"values": [{"t": "g)", "x": 97, "y": 0.469}]},
       "mark": {"type": "text", "font": "Liberation Serif", "fontWeight": "bold", "fontSize": 22},
       "encoding": {"x": {"field": "x", "type": "quantitative"}, "y": {"field": "y", "type": "quantitative"}, "text": {"field": "t"}}},
      {"data": {"values": [{"t": "Max. peak : 0.0085", "x": 440, "y": 0.5}, {"t": "3.5*10⁻⁵M", "x": 482, "y": 0.42}]},
       "mark": {"type": "text", "font": "Liberation Sans", "fontWeight": "bold", "fontSize": 11},
       "encoding": {"x": {"field": "x", "type": "quantitative"}, "y": {"field": "y", "type": "quantitative"}, "text": {"field": "t"}}}
    ]},
    {"layer": [
      {"transform": [{"filter": "datum.p == 'd'"}],
       "mark": {"type": "line", "strokeWidth": 1.3, "interpolate": "monotone"},
       "encoding": {
         "x": {"field": "w", "type": "quantitative", "scale": {"domain": [200, 640], "range": [107, 221], "nice": false, "zero": false, "clamp": true}, "axis": {"orient": "bottom", "offset": -288, "values": [200, 300, 400, 500, 600], "title": null, "labelFontSize": 5, "tickSize": 2.5, "domainWidth": 1, "tickWidth": 1}},
         "y": {"field": "A", "type": "quantitative", "scale": {"domain": [0, 0.1], "range": [196, 117], "nice": false, "zero": false, "clamp": true}, "axis": {"orient": "left", "offset": -107, "values": [0, 0.02, 0.04, 0.06, 0.08, 0.1], "labelExpr": "datum.value > 0.099 ? '100x10⁻³' : format(datum.value * 1000, 'd')", "title": null, "labelFontSize": 5, "tickSize": 2.5, "domainWidth": 1, "tickWidth": 1}},
         "color": {"field": "s", "type": "nominal", "scale": {"domain": ["0min", "1min", "3min", "5min", "7min", "10min", "15min", "20min", "30min", "45min", "60min"], "range": ["#111111", "#a0a0a0", "#c05a20", "#f0b030", "#50d050", "#40d8d8", "#14146e", "#8040c0", "#d020c0", "#404040", "#802030"]}, "legend": null}
       }},
      {"data": {"values": [{"w": 640}]},
       "mark": {"type": "rule", "color": "black", "strokeWidth": 1},
       "encoding": {"x": {"field": "w", "type": "quantitative"}, "y": {"datum": 0}, "y2": {"datum": 0.1}}}
    ]},
    {"transform": [{"filter": "datum.p == 'e'"}],
     "mark": {"type": "line", "strokeWidth": 1.3, "interpolate": "monotone"},
     "encoding": {
       "x": {"field": "w", "type": "quantitative", "scale": {"domain": [200, 600], "range": [423, 530], "nice": false, "zero": false, "clamp": true}, "axis": {"orient": "bottom", "offset": -275, "values": [200, 300, 400, 500, 600], "title": null, "labelFontSize": 5, "tickSize": 2.5, "domainWidth": 1, "tickWidth": 1}},
       "y": {"field": "A", "type": "quantitative", "scale": {"domain": [0, 0.05], "range": [209, 121], "nice": false, "zero": false, "clamp": true}, "axis": {"orient": "left", "offset": -423, "values": [0, 0.01, 0.02, 0.03, 0.04, 0.05], "labelExpr": "datum.value > 0.049 ? '50x10⁻³' : format(datum.value * 1000, 'd')", "title": null, "labelFontSize": 5, "tickSize": 2.5, "domainWidth": 1, "tickWidth": 1}},
       "color": {"field": "s", "type": "nominal", "scale": {"domain": ["0min", "1min", "3min", "5min", "7min", "10min", "15min", "20min", "30min", "45min", "60min"], "range": ["#111111", "#b0b0b0", "#c02020", "#c88a20", "#f4f050", "#50d050", "#3a5a1a", "#50d8d8", "#14146e", "#8040c0", "#802040"]}, "legend": null}
     }},
    {"transform": [{"filter": "datum.p == 'f'"}],
     "mark": {"type": "line", "strokeWidth": 1.3, "interpolate": "monotone"},
     "encoding": {
       "x": {"field": "w", "type": "quantitative", "scale": {"domain": [200, 800], "range": [135, 310], "nice": false, "zero": false, "clamp": true}, "axis": {"orient": "bottom", "offset": -83, "values": [200, 300, 400, 500, 600, 700, 800], "title": null, "labelFontSize": 6.5, "tickSize": 3, "domainWidth": 1.2, "tickWidth": 1.2}},
       "y": {"field": "A", "type": "quantitative", "scale": {"domain": [0, 0.02], "range": [401, 276], "nice": false, "zero": false, "clamp": true}, "axis": {"orient": "left", "offset": -135, "values": [0, 0.005, 0.01, 0.015, 0.02], "labelExpr": "datum.value > 0.0199 ? '20x10⁻³' : format(datum.value * 1000, 'd')", "title": null, "labelFontSize": 6.5, "tickSize": 3, "domainWidth": 1.2, "tickWidth": 1.2}},
       "color": {"field": "s", "type": "nominal", "scale": {"domain": ["0min", "1min", "3min", "5min", "7min", "10min", "15min", "20min", "25min", "30min"], "range": ["#111111", "#b8b8b8", "#a83030", "#f4f040", "#50d050", "#206020", "#50d8e8", "#1a1a70", "#c020a0", "#802040"]}, "legend": null}
     }},
    {"transform": [{"filter": "datum.p == 'g'"}],
     "mark": {"type": "line", "strokeWidth": 1.3, "interpolate": "monotone"},
     "encoding": {
       "x": {"field": "w", "type": "quantitative", "scale": {"domain": [200, 800], "range": [430, 591], "nice": false, "zero": false, "clamp": true}, "axis": {"orient": "bottom", "offset": -83, "values": [200, 300, 400, 500, 600, 700, 800], "title": null, "labelFontSize": 5, "tickSize": 2.5, "domainWidth": 1, "tickWidth": 1}},
       "y": {"field": "A", "type": "quantitative", "scale": {"domain": [0, 0.01], "range": [401, 330], "nice": false, "zero": false, "clamp": true}, "axis": {"orient": "left", "offset": -430, "values": [0, 0.002, 0.004, 0.006, 0.008, 0.01], "labelExpr": "datum.value > 0.0099 ? '10x10⁻³' : format(datum.value * 1000, 'd')", "title": null, "labelFontSize": 5, "tickSize": 2.5, "domainWidth": 1, "tickWidth": 1}},
       "color": {"field": "s", "type": "nominal", "scale": {"domain": ["0min", "1min", "3min", "5min", "7min", "10min", "15min", "20min"], "range": ["#111111", "#b8c0d0", "#a02020", "#a08020", "#f0f040", "#50d050", "#50d8e0", "#1a1a70"]}, "legend": null}
     }}
  ],
  "resolve": {
    "scale": {"x": "independent", "y": "independent", "color": "independent"},
    "axis": {"x": "independent", "y": "independent"},
    "legend": {"color": "independent"}
  },
  "config": {
    "view": {"stroke": null},
    "axis": {"grid": false, "domainColor": "black", "tickColor": "black", "labelColor": "black", "labelFont": "Liberation Sans", "labelFontWeight": "bold", "labelFlush": false, "labelOverlap": false, "domainWidth": 1.5, "tickWidth": 1.5, "labelPadding": 1},
    "legend": {"labelFont": "Liberation Sans", "labelColor": "black", "strokeColor": "#333333", "fillColor": "white", "symbolStrokeWidth": 2, "labelLimit": 0},
    "text": {"color": "black"}
  }
}
